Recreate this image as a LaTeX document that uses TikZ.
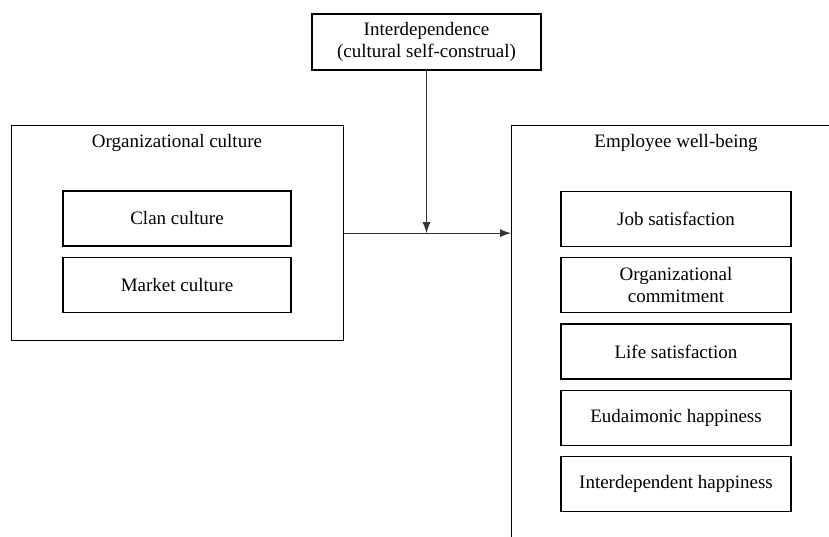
\documentclass[tikz,border=0pt]{standalone}
\usepackage{fontspec}
\setmainfont{Liberation Serif}
\usetikzlibrary{positioning, calc, arrows.meta}

\begin{document}
\begin{tikzpicture}[
    x=1pt, y=-1pt,
    txt/.style={font=\fontsize{19}{22}\selectfont},
    outer/.style={rectangle, draw, line width=1.3pt, anchor=north west, inner sep=0pt},
    block/.style={rectangle, draw, line width=1.3pt, minimum width=228pt, minimum height=55pt, align=center, inner sep=0pt, txt},
    arrow/.style={-{Latex[length=11pt,width=8pt]}, line width=0.9pt, draw=black!80}
]
    \useasboundingbox (0,0) rectangle (829,537);
    \clip (0,0) rectangle (829,537);

    % Moderator
    \node[block, minimum width=229pt, minimum height=56pt] (interdep) at (426.5,42) {Interdependence\\(cultural self-construal)};

    % Organizational culture
    \node[outer, minimum width=332pt, minimum height=215pt] (orgculture) at (11,125) {};
    \node[txt] (orgtitle) at (177,143) {Organizational culture};
    \node[block] (clan) at (177,218.5) {Clan culture};
    \node[block, below=10pt of clan] (market) {Market culture};

    % Employee well-being (runs off the page)
    \node[outer, minimum width=340pt, minimum height=440pt] (wellbeing) at (511,125) {};
    \node[txt] (welltitle) at (676,143) {Employee well-being};
    \node[block, minimum width=230pt] (job) at (676,219) {Job satisfaction};
    \node[block, minimum width=230pt, below=10pt of job] (commit) {Organizational\\commitment};
    \node[block, minimum width=230pt, below=10pt of commit] (life) {Life satisfaction};
    \node[block, minimum width=230pt, below=10pt of life] (eudaimonic) {Eudaimonic happiness};
    \node[block, minimum width=230pt, below=10pt of eudaimonic] (interhappy) {Interdependent happiness};

    % Paths
    \coordinate (meet) at (interdep.south |- orgculture.east);
    \draw[arrow] (orgculture.east) -- (wellbeing.west |- orgculture.east);
    \draw[arrow] (interdep.south) -- (meet);
\end{tikzpicture}
\end{document}
